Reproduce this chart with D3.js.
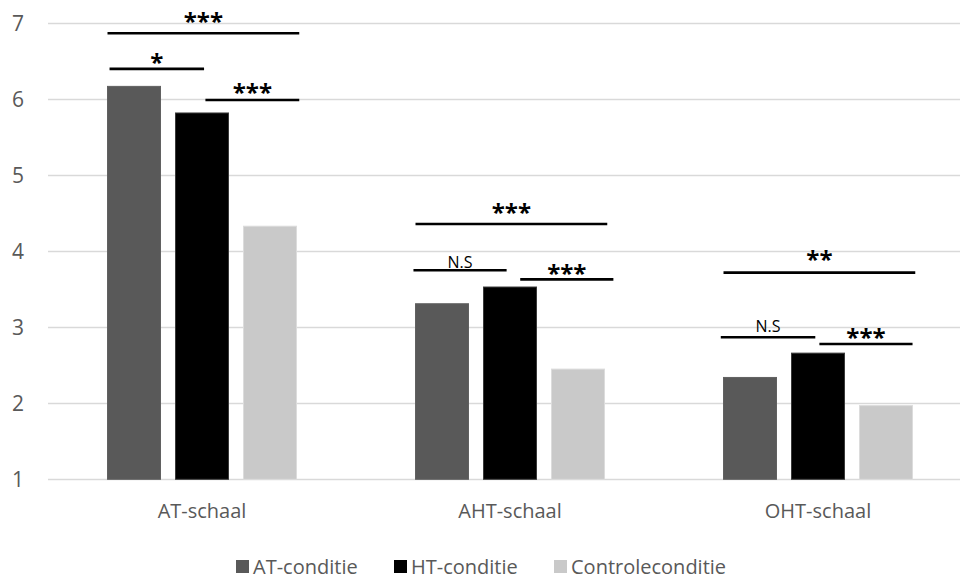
<!DOCTYPE html>
<html>
<head>
<meta charset="utf-8">
<script src="https://cdn.jsdelivr.net/npm/d3@7"></script>
<style>
  html, body { margin: 0; padding: 0; background: #fff; }
  svg { display: block; }
  text { font-family: "Open Sans", "Noto Sans", sans-serif; }
</style>
</head>
<body>
<svg id="chart" width="960" height="579"></svg>
<script>
// ---- data ----
const categories = ["AT-schaal", "AHT-schaal", "OHT-schaal"];
const seriesNames = ["AT-conditie", "HT-conditie", "Controleconditie"];
const seriesColors = ["#595959", "#000000", "#c9c9c9"];
const atConditie = [6.17, 3.31, 2.34];
const htConditie = [5.82, 3.53, 2.66];
const controleConditie = [4.33, 2.45, 1.97];
const yTicks = [1, 2, 3, 4, 5, 6, 7];
// significance annotations: category, from/to in bar-slot units, line level, label level, label
const sigCategory = ["AT-schaal", "AT-schaal", "AT-schaal", "AHT-schaal", "AHT-schaal", "AHT-schaal", "OHT-schaal", "OHT-schaal", "OHT-schaal"];
const sigFrom =     [0.0, 0.03, 1.44, 0.0, -0.03, 1.54, 0.0, -0.04, 1.41];
const sigTo =       [2.82, 1.42, 2.82, 2.82, 1.34, 2.91, 2.82, 1.35, 2.78];
const sigLevel =    [6.87, 6.40, 5.99, 4.36, 3.75, 3.63, 3.72, 2.87, 2.78];
const sigTextLevel = [7.08, 6.54, 6.15, 4.57, 3.86, 3.77, 3.95, 3.02, 2.93];
const sigLabel =    ["***", "*", "***", "***", "N.S", "***", "**", "N.S", "***"];

const values = [atConditie, htConditie, controleConditie];

const svg = d3.select("#chart");
const plotLeft = 48, plotRight = 960;
const x0 = d3.scaleBand().domain(categories).range([48, 972]).paddingInner(0).paddingOuter(0);
const groupWidth = 189;
const groupOffset = (x0.bandwidth() - groupWidth) / 2;
const x1 = d3.scaleBand().domain(seriesNames).range([0, groupWidth]).paddingInner(15 / 68).paddingOuter(0);
const slotStep = x1.step();
const y = d3.scaleLinear().domain([1, 7]).range([479.3, 23.3]);

// gridlines
svg.append("g").selectAll("line").data(yTicks).join("line")
  .attr("x1", plotLeft).attr("x2", plotRight)
  .attr("y1", d => Math.round(y(d)) + 0.5).attr("y2", d => Math.round(y(d)) + 0.5)
  .attr("stroke", "#d9d9d9").attr("stroke-width", 1.5);

// y axis labels
const yAxis = d3.axisLeft(y).tickValues(yTicks).tickFormat(d3.format("d")).tickSize(0).tickPadding(0);
const gy = svg.append("g").attr("transform", "translate(24,0)").call(yAxis);
gy.select(".domain").remove();
gy.selectAll("text").attr("font-size", 21).attr("fill", "#595959")
  .style("font-family", '"Open Sans", sans-serif');

// bars
const groups = svg.append("g").selectAll("g").data(categories).join("g")
  .attr("transform", d => `translate(${x0(d) + groupOffset},0)`);
groups.selectAll("rect").data((c, ci) => seriesNames.map((s, si) => ({ s, si, v: values[si][ci] })))
  .join("rect")
  .attr("x", d => x1(d.s))
  .attr("width", x1.bandwidth())
  .attr("y", d => y(d.v))
  .attr("height", d => y(1) - y(d.v))
  .attr("fill", d => seriesColors[d.si])
  .attr("stroke", d => d.si === 1 ? "#3a3a3a" : d3.color(seriesColors[d.si]).brighter(0.25))
  .attr("stroke-width", 1);

// category labels
const xAxis = d3.axisBottom(x0).tickSize(0).tickPadding(0);
const gx = svg.append("g").attr("transform", `translate(${groupOffset + groupWidth / 2 - x0.bandwidth() / 2},504)`).call(xAxis);
gx.select(".domain").remove();
gx.selectAll("text").attr("font-size", 20).attr("fill", "#595959")
  .style("font-family", '"Open Sans", sans-serif');

// significance annotations
const sig = sigLabel.map((l, i) => ({ l, c: sigCategory[i], f: sigFrom[i], t: sigTo[i], v: sigLevel[i], tv: sigTextLevel[i] }));
const sg = svg.append("g");
sig.forEach(d => {
  const gx0 = x0(d.c) + groupOffset;
  const xa = gx0 + d.f * slotStep, xb = gx0 + d.t * slotStep;
  const yy = y(d.v);
  sg.append("line").attr("x1", xa).attr("x2", xb).attr("y1", yy).attr("y2", yy)
    .attr("stroke", "#000").attr("stroke-width", 2.6);
  const isNS = d.l === "N.S";
  sg.append("text")
    .attr("x", (xa + xb) / 2)
    .attr("y", y(d.tv) + (isNS ? 6 : 13))
    .attr("text-anchor", "middle")
    .attr("font-size", isNS ? 16 : 24)
    .attr("font-weight", isNS ? 400 : 700)
    .attr("letter-spacing", 0)
    .attr("fill", "#000")
    .text(d.l);
});

// legend
const legendX = [236, 394, 554];
const lg = svg.append("g").selectAll("g").data(seriesNames).join("g")
  .attr("transform", (d, i) => `translate(${legendX[i]},567)`);
lg.append("rect").attr("x", 0).attr("y", -7).attr("width", 13).attr("height", 13)
  .attr("fill", (d, i) => seriesColors[i]);
lg.append("text").attr("x", 17).attr("y", 0).attr("dy", "0.35em")
  .attr("font-size", 20).attr("fill", "#595959").text(d => d);
</script>
</body>
</html>
